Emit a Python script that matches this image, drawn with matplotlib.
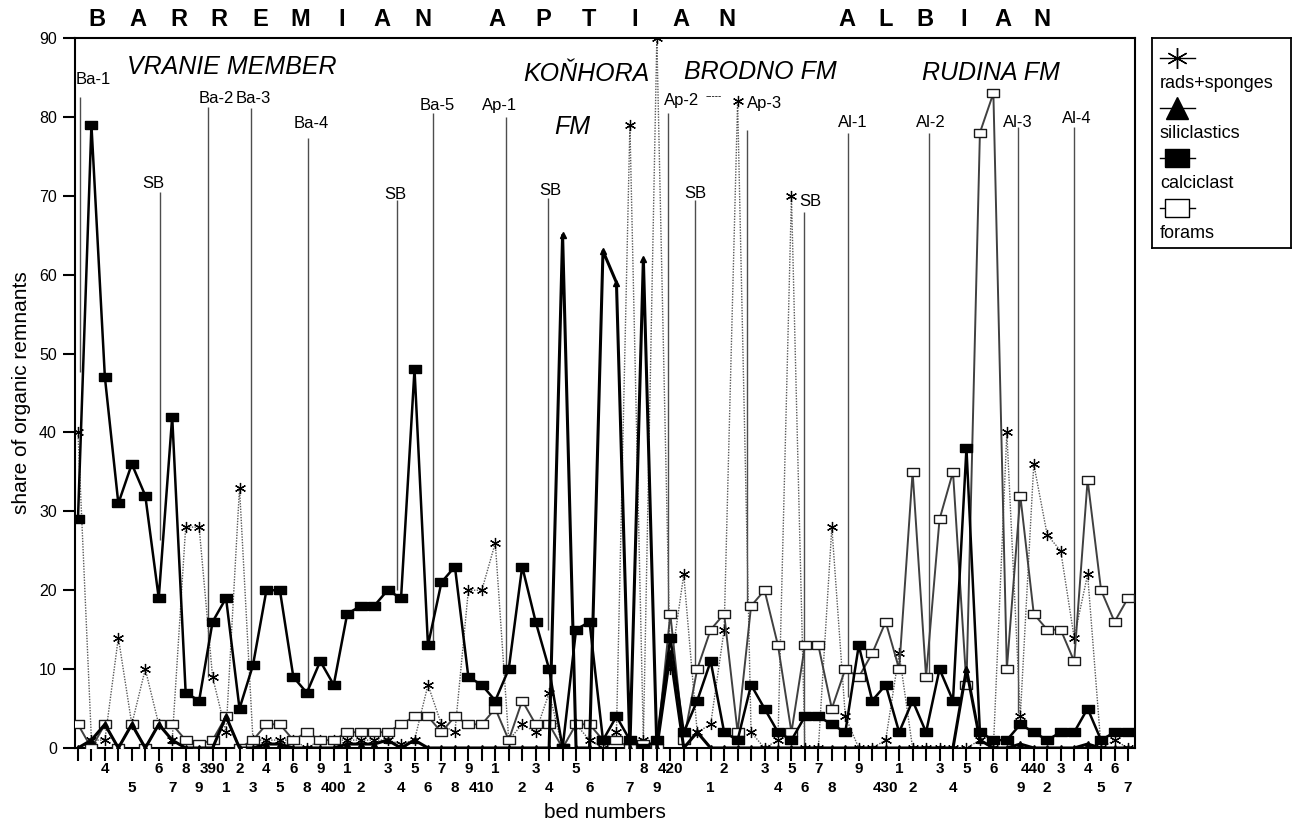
import matplotlib
matplotlib.use("Agg")
import matplotlib.pyplot as plt

plt.rcParams['font.family'] = ['Liberation Sans', 'DejaVu Sans']

# bed labels along the section (blank = tick without label)
bed_labels = ["", "", "4", "", "5", "", "6", "7", "8", "9", "390", "1", "2", "3", "4",
              "5", "6", "8", "9", "400", "1", "2", "", "3", "4", "5", "6", "7", "8", "9",
              "410", "1", "", "2", "3", "4", "", "5", "6", "", "", "7", "8", "9", "420",
              "", "", "1", "2", "", "", "3", "4", "5", "6", "7", "8", "", "9", "", "430",
              "1", "2", "", "3", "4", "5", "", "6", "", "9", "440", "2", "3", "", "4", "5",
              "6", "7"]
# labels printed in the second (lower) row
lower_row = [4, 7, 9, 11, 13, 15, 17, 19, 21, 24, 26, 28, 30, 33, 35, 38, 41, 43, 47,
             52, 54, 56, 60, 62, 65, 70, 72, 76, 78]

rads = [40, 1, 1, 14, 3, 10, 3, 1, 28, 28, 9, 2, 33, 1, 1, 1, 1, 0, 1, 1,
        1, 1, 1, 1, 0.5, 1, 8, 3, 2, 20, 20, 26, 1, 3, 2, 7, 0, 3, 1, 0,
        2, 79, 1, 90, 10, 22, 2, 3, 15, 82, 2, 0, 1, 70, 0, 0, 28, 4, 0, 0,
        1, 12, 0, 0, 0, 0, 0, 1, 0, 40, 4, 36, 27, 25, 14, 22, 0, 1, 0]
siliclastics = [0, 1, 3, 0, 3, 0, 3, 1, 0, 0, 0, 4, 0, 0, 0.5, 0.5, 0, 0, 0, 0,
                0.5, 0.5, 0.5, 1, 0, 1, 0, 0, 0, 0, 0, 0, 0, 0, 0, 0, 65, 0, 0, 63,
                59, 0, 62, 0, 12, 0, 2, 0, 0, 0, 0, 0, 0, 0, 0, 0, 0, 0, 0, 0,
                0, 0, 0, 0, 0, 0, 10, 1, 0, 0, 0.5, 0, 0, 0, 0, 0.5, 0, 0, 0]
calciclast = [29, 79, 47, 31, 36, 32, 19, 42, 7, 6, 16, 19, 5, 10.5, 20, 20, 9, 7, 11, 8,
              17, 18, 18, 20, 19, 48, 13, 21, 23, 9, 8, 6, 10, 23, 16, 10, 0, 15, 16, 1,
              4, 1, 0, 1, 14, 2, 6, 11, 2, 1, 8, 5, 2, 1, 4, 4, 3, 2, 13, 6,
              8, 2, 6, 2, 10, 6, 38, 2, 1, 1, 3, 2, 1, 2, 2, 5, 1, 2, 2]
forams = [3, 0, 3, 0, 3, 0, 3, 3, 1, 0.5, 1, 4, 0, 1, 3, 3, 1, 2, 1, 1,
          2, 2, 2, 2, 3, 4, 4, 2, 4, 3, 3, 5, 1, 6, 3, 3, 0, 3, 3, 1,
          1, 0, 0.5, 0, 17, 1, 10, 15, 17, 2, 18, 20, 13, 2, 13, 13, 5, 10, 9, 12,
          16, 10, 35, 9, 29, 35, 8, 78, 83, 10, 32, 17, 15, 15, 11, 34, 20, 16, 19]

# horizon markers: name, position on the bed axis, top and bottom of the line
horizons = ["Ba-1", "SB", "Ba-2", "Ba-3", "Ba-4", "SB", "Ba-5", "Ap-1", "SB",
            "Ap-2", "SB", "Ap-3", "SB", "Al-1", "Al-2", "Al-3", "Al-4"]
horizon_pos = [0.15, 6.1, 9.66, 12.85, 17.1, 23.7, 26.4, 31.8, 34.9,
               43.8, 45.8, 49.7, 53.9, 57.2, 63.2, 69.8, 74.0]
horizon_top = [82.5, 70.5, 81.2, 81.1, 77.3, 69.5, 80.5, 80, 69.7,
               80.5, 69.5, 78.3, 68, 78, 78, 78.7, 78.7]
horizon_bottom = [47.6, 26.4, 9, 11, 7, 20, 13, 10, 15,
                  17, 10, 18, 0, 6.5, 9, 4.5, 14]
label_x = [1.15, 5.61, 10.29, 13.04, 17.35, 23.55, 26.71, 31.35, 35.07,
           44.84, 45.84, 50.97, 54.38, 57.54, 63.34, 69.84, 74.18]
label_y = [84.8, 71.5, 82.3, 82.3, 79.1, 70.1, 81.5, 81.5, 70.7,
           82.1, 70.3, 81.7, 69.3, 79.3, 79.3, 79.3, 79.8]

W, H = 1292, 823


def fx(px):
    return px / W


def fy(py):
    return 1 - py / H


fig = plt.figure(figsize=(W / 100, H / 100), dpi=100)
ax = fig.add_axes([fx(75), fy(748), (1135 - 75) / W, (748 - 38) / H])

x = list(range(len(calciclast)))
rect = [(-1.35, -1), (1.35, -1), (1.35, 1), (-1.35, 1), (-1.35, -1)]

ax.vlines(horizon_pos, horizon_bottom, horizon_top, color="0.3", lw=1.0, zorder=1)
for name, lx, ly in zip(horizons, label_x, label_y):
    ax.text(lx, ly, name, ha="center", va="center", fontsize=12)
ax.text(46.6, 82.6, "-----", ha="left", va="center", fontsize=7)

ax.plot(x, rads, color="0.35", lw=1.0, ls=(0, (1, 1)), marker=(6, 2, 0), ms=8,
        mec="black", mew=0.9, zorder=3)
ax.plot(x, forams, color="0.25", lw=1.4, marker=rect, ms=8, mfc="white",
        mec="0.1", mew=1.0, zorder=4)
ax.plot(x, calciclast, color="black", lw=1.8, marker=rect, ms=8, mfc="black",
        mec="black", zorder=5)
ax.plot(x, siliclastics, color="black", lw=2.2, marker="^", ms=5, mfc="black",
        mec="black", zorder=6)

ax.set_xlim(-0.22, 78.52)
ax.set_ylim(0, 90)
ax.set_yticks(range(0, 91, 10))
ax.set_xticks(x)
ax.set_xticklabels([])
ax.tick_params(axis="x", direction="out", length=9, width=1.5)
ax.tick_params(axis="y", direction="out", length=9, width=1.5, pad=4, labelsize=11.5)
for sp in ax.spines.values():
    sp.set_linewidth(1.5)

# bed labels in two staggered rows below the ticks
xtr = ax.get_xaxis_transform()
for i, lab in enumerate(bed_labels):
    if lab:
        row_y = -0.0563 if i in lower_row else -0.0296
        ax.text(i, row_y, lab, transform=xtr, ha="center", va="center",
                fontsize=11, fontweight="bold", clip_on=False)

fig.text(fx(605), fy(812), "bed numbers", ha="center", va="center", fontsize=15)
fig.text(fx(22), fy(393), "share of organic remnants", ha="center", va="center",
         fontsize=15, rotation=90)

# stage names, letter-spaced
stages = [("BARREMIAN", 97, 40.75), ("APTIAN", 497, 46), ("ALBIAN", 847, 39)]
for word, start, step in stages:
    for k, ch in enumerate(word):
        fig.text(fx(start + k * step), fy(20), ch, ha="center", va="center",
                 fontsize=17, fontweight="bold")

# formation names
for txt, cx, cy in [("VRANIE MEMBER", 232, 67), ("KOŇHORA", 586, 74),
                    ("FM", 572, 127), ("BRODNO FM", 760, 72), ("RUDINA FM", 991, 73)]:
    fig.text(fx(cx), fy(cy), txt, ha="center", va="center", fontsize=18,
             fontstyle="italic")

# legend box
lax = fig.add_axes([fx(1152), fy(248), 139 / W, 210 / H])
lax.set_xlim(1152, 1291)
lax.set_ylim(248, 38)
lax.set_xticks([])
lax.set_yticks([])
for sp in lax.spines.values():
    sp.set_linewidth(1.3)
leg_names = ["rads+sponges", "siliclastics", "calciclast", "forams"]
leg_styles = [dict(marker=(6, 2, 0), ms=15, mfc="black", mec="black", mew=1.0),
              dict(marker="^", ms=16, mfc="black", mec="black"),
              dict(marker=rect, ms=17, mfc="black", mec="black"),
              dict(marker=rect, ms=17, mfc="white", mec="black", mew=1.0)]
for k, (name, st) in enumerate(zip(leg_names, leg_styles)):
    ym = 58 + k * 50
    lax.plot([1160, 1177, 1195], [ym, ym, ym], color="black", lw=1.0,
             markevery=[1], **st)
    lax.text(1160, ym + 25, name, ha="left", va="center", fontsize=13)

fig.savefig("out.png", dpi=100)
